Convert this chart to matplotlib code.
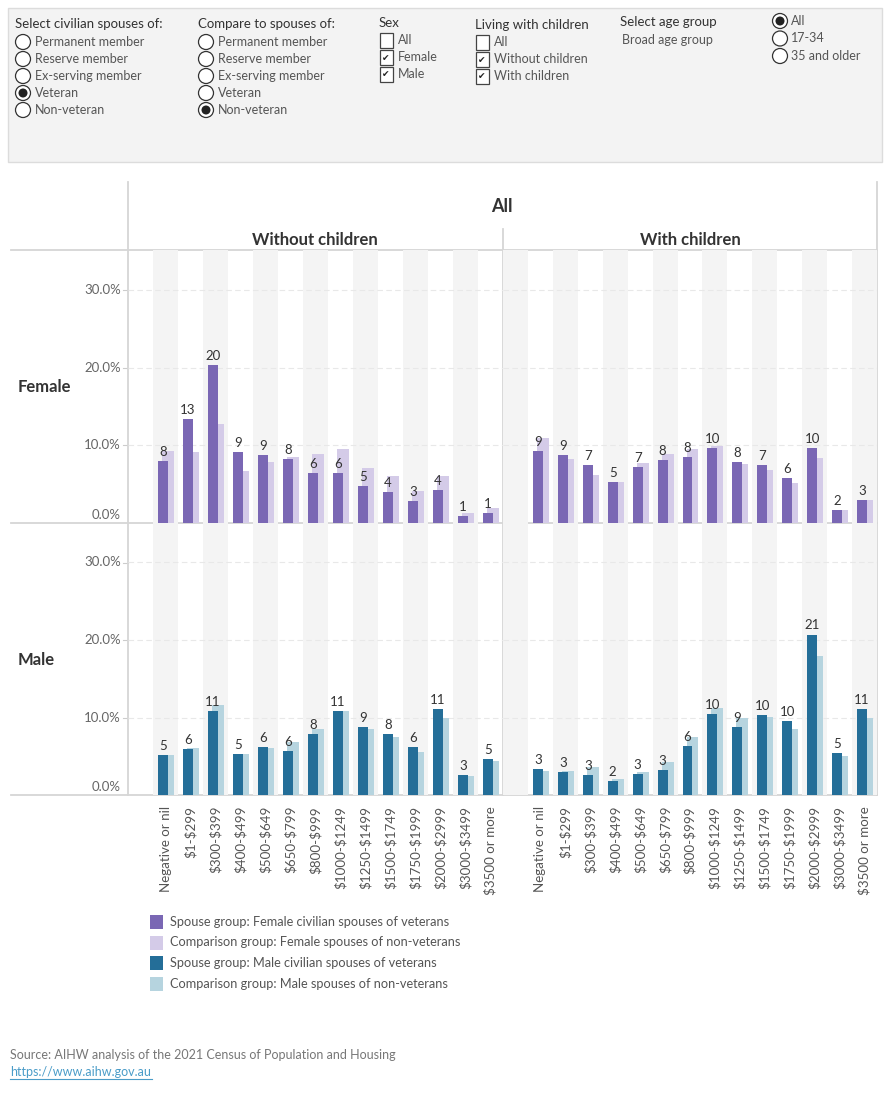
import numpy as np
import matplotlib
matplotlib.use('Agg')
import matplotlib.pyplot as plt
from matplotlib.patches import Rectangle, Circle

plt.rcParams['font.family'] = ['Lato', 'DejaVu Sans']
plt.rcParams['text.parse_math'] = False

# --- data (percent of group in each weekly income band) ---
income_bands = ["Negative or nil", "$1-$299", "$300-$399", "$400-$499", "$500-$649",
                "$650-$799", "$800-$999", "$1000-$1249", "$1250-$1499", "$1500-$1749",
                "$1750-$1999", "$2000-$2999", "$3000-$3499", "$3500 or more"]

female_nochild_vet = [7.96, 13.4, 20.4, 9.1, 8.7, 8.2, 6.4, 6.4, 4.7, 4.0, 2.8, 4.2, 0.8, 1.3]
female_nochild_cmp = [9.25, 9.1, 12.7, 6.7, 7.8, 8.5, 8.9, 9.5, 7.1, 6.0, 4.1, 6.0, 1.2, 1.9]
female_child_vet = [9.25, 8.7, 7.4, 5.2, 7.2, 8.1, 8.5, 9.6, 7.8, 7.4, 5.8, 9.6, 1.6, 2.9]
female_child_cmp = [10.9, 8.2, 6.2, 5.2, 7.7, 8.9, 9.5, 9.9, 7.6, 6.8, 5.1, 8.3, 1.6, 2.9]
male_nochild_vet = [5.15, 5.9, 10.8, 5.3, 6.2, 5.7, 7.85, 10.8, 8.75, 7.85, 6.2, 11.1, 2.6, 4.6]
male_nochild_cmp = [5.15, 6.05, 11.6, 5.3, 6.05, 6.8, 8.5, 10.9, 8.5, 7.5, 5.5, 9.9, 2.4, 4.4]
male_child_vet = [3.4, 3.0, 2.6, 1.8, 2.7, 3.2, 6.3, 10.4, 8.8, 10.3, 9.6, 20.7, 5.4, 11.1]
male_child_cmp = [3.1, 3.1, 3.6, 2.1, 3.0, 4.3, 7.5, 11.2, 10.0, 10.1, 8.5, 18.0, 5.0, 10.0]

legend_labels = ["Spouse group: Female civilian spouses of veterans",
                 "Comparison group: Female spouses of non-veterans",
                 "Spouse group: Male civilian spouses of veterans",
                 "Comparison group: Male spouses of non-veterans"]

PURPLE, LPURPLE = '#7a67b4', '#d4cbe8'
TEAL, LTEAL = '#246e98', '#b6d4df'
GRID = '#d6d6d6'
W, H = 890, 1100

fig = plt.figure(figsize=(W / 100, H / 100), dpi=100)
fig.patch.set_facecolor('white')

# overlay axes in pixel coordinates for the dashboard furniture
ov = fig.add_axes([0, 0, 1, 1])
ov.set_xlim(0, W)
ov.set_ylim(H, 0)
ov.axis('off')
ov.set_zorder(0)


def txt(x, y, s, size=9, color='#555555', **kw):
    ov.text(x, y, s, fontsize=size, color=color, va='center', **kw)


# control panel
ov.add_patch(Rectangle((8, 8), 874, 154, facecolor='#f3f3f3', edgecolor='#dcdcdc', lw=1))


def radio(x, y, on):
    ov.add_patch(Circle((x, y), 7.5, facecolor='white', edgecolor='#333333', lw=0.9))
    if on:
        ov.add_patch(Circle((x, y), 4.5, facecolor='#222222', edgecolor='none'))


def check(x, y, on):
    ov.add_patch(Rectangle((x - 6.5, y - 7.5), 13, 15, facecolor='white', edgecolor='#444444', lw=0.9))
    if on:
        ov.text(x, y + 1, '\u2714', fontsize=6.5, color='#222222', ha='center', va='center',
                family='DejaVu Sans')


opts = ["Permanent member", "Reserve member", "Ex-serving member", "Veteran", "Non-veteran"]
txt(15, 24, "Select civilian spouses of:", 9.5, '#333333')
txt(198, 24, "Compare to spouses of:", 9.5, '#333333')
for i, o in enumerate(opts):
    y = 42 + i * 17
    radio(23, y, o == "Veteran")
    txt(35, y, o)
    radio(206, y, o == "Non-veteran")
    txt(218, y, o)

txt(379, 23, "Sex", 9.5, '#333333')
for i, (o, on) in enumerate([("All", False), ("Female", True), ("Male", True)]):
    y = 40 + i * 17
    check(386, y, on)
    txt(398, y, o)

txt(475, 25, "Living with children", 9.5, '#333333')
for i, (o, on) in enumerate([("All", False), ("Without children", True), ("With children", True)]):
    y = 42 + i * 17
    check(482, y, on)
    txt(494, y, o)

txt(620, 22, "Select age group", 9.5, '#333333')
txt(622, 40, "Broad age group", 9)
for i, (o, on) in enumerate([("All", True), ("17-34", False), ("35 and older", False)]):
    y = 21 + i * 17.5
    radio(780, y, on)
    txt(791, y, o)

# headers
ov.text(502, 207, "All", fontsize=13, fontweight='bold', color='#333333', ha='center', va='center')
ov.text(315, 240, "Without children", fontsize=12, fontweight='bold', color='#333333', ha='center', va='center')
ov.text(690, 240, "With children", fontsize=12, fontweight='bold', color='#333333', ha='center', va='center')
ov.text(18, 387, "Female", fontsize=12, fontweight='bold', color='#333333', va='center')
ov.text(18, 660, "Male", fontsize=12, fontweight='bold', color='#333333', va='center')

# table lines
for y in (250, 523, 795):
    ov.plot([11, 877], [y, y], color=GRID, lw=1.3, zorder=5)
ov.plot([128, 128], [182, 795], color=GRID, lw=1.3, zorder=5)
ov.plot([503, 503], [229, 795], color=GRID, lw=1.3, zorder=5)
ov.plot([877, 877], [182, 795], color=GRID, lw=1.3, zorder=5)

# y tick labels
for top, base in ((250, 522.7), (523, 795)):
    for v in (0, 10, 20, 30):
        y = base - v * 7.75
        ty = y - 8 if v == 0 else y
        ov.text(121, ty, f"{v:.1f}%", fontsize=9.5, color='#666666', ha='right', va='center')
        if v:
            ov.plot([123, 128], [y, y], color='#cccccc', lw=0.8)

# legend
for i, (lab, c) in enumerate(zip(legend_labels, [PURPLE, LPURPLE, TEAL, LTEAL])):
    y = 922 + i * 20.5
    ov.add_patch(Rectangle((150, y - 7), 13, 14, facecolor=c, edgecolor='none'))
    txt(170, y, lab, 9.2)

# source
txt(10, 1055, "Source: AIHW analysis of the 2021 Census of Population and Housing", 9, '#777777')
ov.text(10, 1072, "https://www.aihw.gov.au", fontsize=9, color='#4a9cc8', va='center')
ov.plot([10, 152], [1079, 1079], color='#4a9cc8', lw=0.8)


def pane(left, top, right, bottom, vet, cmp, dark, light, band_odd, xlabels):
    ax = fig.add_axes([left / W, 1 - bottom / H, (right - left) / W, (bottom - top) / H])
    ax.set_zorder(2)
    ax.patch.set_alpha(0)
    x = np.arange(len(income_bands))
    ax.set_xlim(-1.5, len(income_bands) - 0.5)
    ax.set_ylim(0, (bottom - top) / 7.75)
    # alternating column bands
    if band_odd:
        ax.axvspan(-1.5, -0.5, color='#f4f4f4', lw=0, zorder=0)
    for i in x:
        if (i % 2 == 1) == band_odd:
            ax.axvspan(i - 0.5, i + 0.5, color='#f4f4f4', lw=0, zorder=0)
    for g in (10, 20, 30):
        ax.axhline(g, color='#e8e8e8', lw=0.8, ls=(0, (5, 3)), zorder=1)
    ax.bar(x + 0.1, cmp, width=0.48, color=light, zorder=2)
    ax.bar(x - 0.1, vet, width=0.4, color=dark, zorder=3)
    for xi, v in zip(x, vet):
        ax.text(xi - 0.1, v + 0.4, f"{v:.0f}", fontsize=9.5, color='#333333',
                ha='center', va='bottom', zorder=4)
    ax.set_xticks([])
    ax.set_yticks([])
    for s in ax.spines.values():
        s.set_visible(False)
    if xlabels:
        for xi, lab in zip(x, income_bands):
            ax.text(xi, -0.04, lab, transform=ax.get_xaxis_transform(), rotation=90,
                    fontsize=9.6, color='#555555', ha='center', va='top')
    return ax


pane(128, 250, 503, 522.7, female_nochild_vet, female_nochild_cmp, PURPLE, LPURPLE, False, False)
pane(503, 250, 877, 522.7, female_child_vet, female_child_cmp, PURPLE, LPURPLE, True, False)
pane(128, 523, 503, 795, male_nochild_vet, male_nochild_cmp, TEAL, LTEAL, False, True)
pane(503, 523, 877, 795, male_child_vet, male_child_cmp, TEAL, LTEAL, True, True)

fig.savefig('out.png', dpi=100)
